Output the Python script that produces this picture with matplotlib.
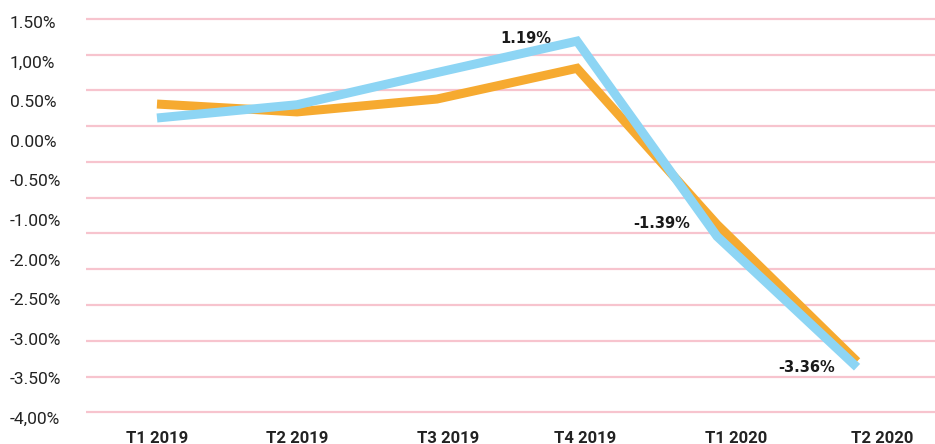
import numpy as np
import matplotlib.pyplot as plt

## quarters and the two series
quarters = ['T1 2019', 'T2 2019', 'T3 2019', 'T4 2019', 'T1 2020', 'T2 2020']
orange_vals = [0.31, 0.2, 0.38, 0.81, -1.375, -3.29]
blue_vals = [0.115, 0.3, 0.75, 1.19, -1.54, -3.37]

## y labels as printed on the original (not aligned with the grid)
ytick_labels = ['1.50%', '1,00%', '0.50%', '0.00%', '-0.50%', '-1.00%',
                '-2.00%', '-2.50%', '-3.00%', '-3.50%', '-4,00%']
grid_vals = np.arange(-4.0, 1.51, 0.5)

## labelled points: (series index, label text, offset in points)
callouts = [(3, '1.19%', (-37, 2)), (4, '-1.39%', (-40, 9)), (5, '-3.36%', (-36, 0))]

fig = plt.figure(figsize=(9.35, 4.44), dpi=100)
ax = fig.add_axes([86 / 935, 26 / 444, 1 - 86 / 935, 408 / 444])

x = np.arange(len(quarters))
ax.plot(x, orange_vals, color='#F6AA30', lw=6.5, solid_joinstyle='miter', solid_capstyle='butt', zorder=3)
ax.plot(x, blue_vals, color='#8DD5F4', lw=6.5, solid_joinstyle='miter', solid_capstyle='butt', zorder=4)

for i, txt, off in callouts:
    ax.annotate(txt, (x[i], blue_vals[i]), xytext=off, textcoords='offset points',
                ha='center', va='center', fontsize=10.5, fontweight='bold', family='DejaVu Sans',
                color='#1a1a1a', zorder=5)

ax.set_xlim(-0.507, 5.557)
ax.set_ylim(-4.042, 1.625)

## pink grid lines
for g in grid_vals:
    ax.axhline(g, color='#F7C4CE', lw=1.6, zorder=1)

## y labels spread evenly, independent of the grid
ax.set_yticks(np.linspace(1.46, -4.08, len(ytick_labels)))
ax.set_yticklabels(ytick_labels, fontsize=12.5, color='#222222', family='Roboto')
for lab in ax.get_yticklabels():
    lab.set_horizontalalignment('left')
ax.tick_params(axis='y', length=0, pad=55)

ax.set_xticks([0, 1.0, 2.08, 3.06, 4.14, 5.18])
ax.set_xticklabels(quarters, fontsize=12, fontweight='bold', color='#222222', family='Roboto')
ax.tick_params(axis='x', length=0, pad=9)

for s in ax.spines.values():
    s.set_visible(False)

fig.savefig('out.png', dpi=100)
